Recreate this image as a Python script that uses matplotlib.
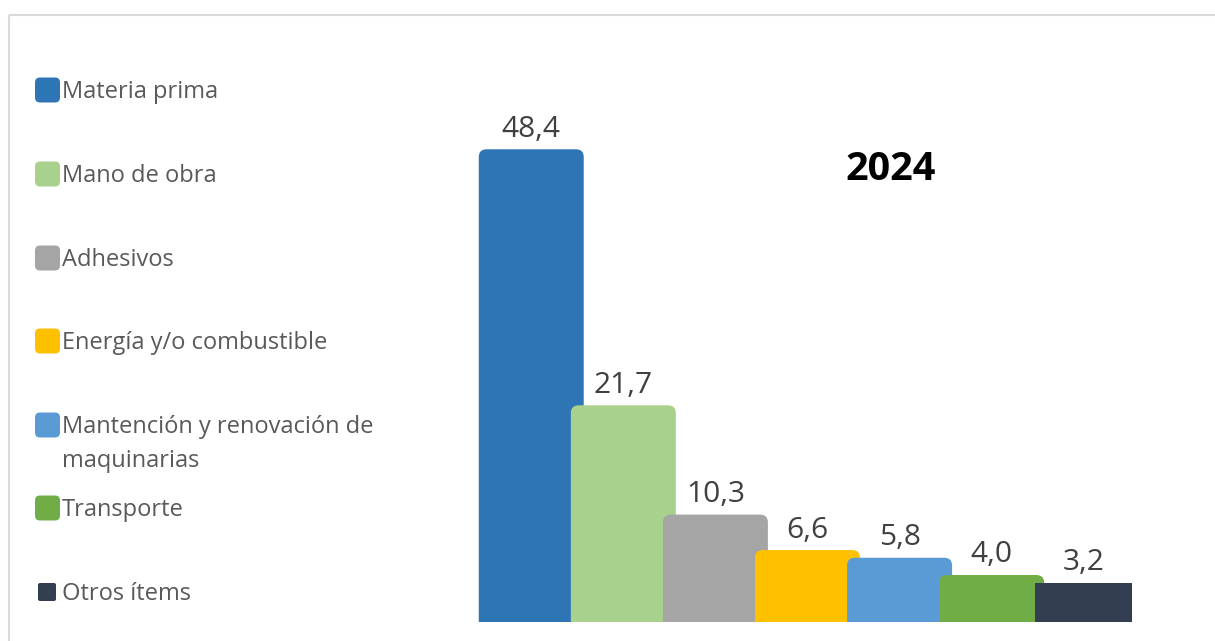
import matplotlib.pyplot as plt
from matplotlib.patches import FancyBboxPatch
import numpy as np

plt.rcParams['font.family'] = ['Open Sans', 'DejaVu Sans']

categories = ["Materia prima", "Mano de obra", "Adhesivos", "Energía y/o combustible",
              "Mantención y renovación de\nmaquinarias", "Transporte", "Otros ítems"]
values = [48.4, 21.7, 10.3, 6.6, 5.8, 4.0, 3.2]
colors = ["#2E75B6", "#A9D18E", "#A5A5A5", "#FFC000", "#5B9BD5", "#70AD47", "#333F50"]
year = "2024"

W, H = 1215, 641
fig = plt.figure(figsize=(W / 100, H / 100), dpi=100)

# overlay in pixel coords for frame, legend and title
ov = fig.add_axes([0, 0, 1, 1])
ov.set_xlim(0, W)
ov.set_ylim(H, 0)
ov.axis("off")
ov.plot([9, W + 5], [15, 15], color="#D9D9D9", lw=1.5, solid_capstyle="butt")
ov.plot([9, 9], [15, H + 5], color="#D9D9D9", lw=1.5, solid_capstyle="butt")

# bar axes
ax = fig.add_axes([476 / W, (H - 622) / H, 663 / W, 536 / H])
ax.set_xlim(-0.6, 6.6)
ax.set_ylim(-0.9, 55)
ax.axis("off")

x = np.arange(len(values))
widths = [1.14] * 6 + [1.05]
bars = ax.bar(x, values, width=widths, color=colors)
for i, r in enumerate(bars):
    x0, y0 = r.get_x(), r.get_y()
    w, h = r.get_width(), r.get_height()
    r.remove()
    if i == len(values) - 1:
        style = "square,pad=0"
    else:
        style = "round,pad=0,rounding_size=0.085"
    p = FancyBboxPatch((x0, y0 - 3), w, h + 3, boxstyle=style,
                       mutation_aspect=9.4, fc=colors[i], ec="none", zorder=2 + i)
    ax.add_patch(p)
    ax.annotate(f"{values[i]:.1f}".replace(".", ","), (x[i], values[i]),
                xytext=(0, 4), textcoords="offset points", ha="center", va="bottom",
                fontsize=21.5, color="#404040", zorder=20)

ov.text(891, 169, year, ha="center", va="center", fontsize=28.5, fontweight="bold", color="black")

# legend
rows = [90, 174, 258, 341, 425, 508, 592]
for i, (lab, y) in enumerate(zip(categories, rows)):
    if i == len(categories) - 1:
        ov.add_patch(FancyBboxPatch((38, y - 9), 18, 18, boxstyle="round,pad=0,rounding_size=2",
                                    fc=colors[i], ec="none"))
    else:
        ov.add_patch(FancyBboxPatch((35, y - 12.5), 25, 25, boxstyle="round,pad=0,rounding_size=5",
                                    fc=colors[i], ec="none"))
    ov.text(62, y - 10, lab, ha="left", va="top", fontsize=17, color="#595959", linespacing=1.56)

fig.savefig("out.png", dpi=100)
